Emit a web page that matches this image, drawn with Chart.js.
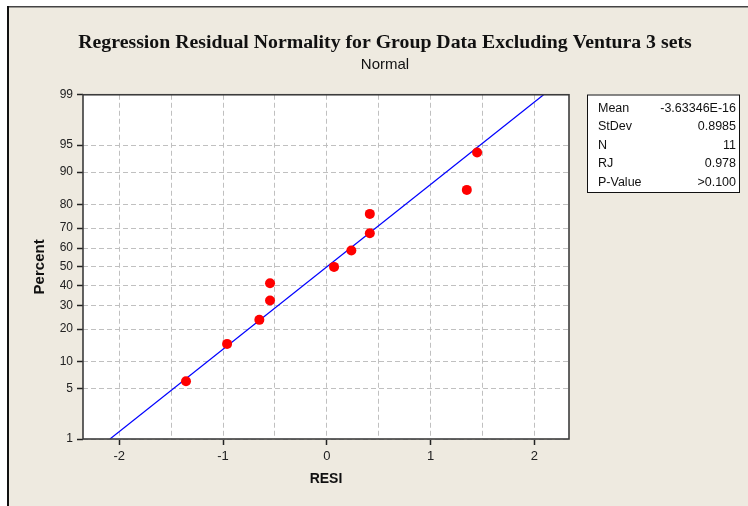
<!DOCTYPE html>
<html lang="en">
<head>
    <meta charset="UTF-8">
    <script src="https://cdn.jsdelivr.net/npm/chart.js"></script>
    <title>Regression Residual Normality</title>
    <style>
        body { margin: 0; background: #fff; overflow: hidden; }
        #wrap { position: relative; width: 748px; height: 506px; }
    </style>
</head>
<body>
    <div id="wrap">
        <canvas id="myChart"></canvas>
    </div>
    <script>
        // residuals (x) and their plotting percents (y)
        const resi = [-1.357, -0.961, -0.650, -0.547, -0.547, 0.070, 0.237, 0.415, 0.415, 1.350, 1.449];
        const percent = [6.1, 14.9, 23.7, 32.5, 41.2, 50, 58.8, 67.5, 76.3, 85.1, 93.9];

        // fitted normal line endpoints
        const fitX = [-2.09, 2.09];
        const fitP = [1, 99];

        const percentTicks = [1, 5, 10, 20, 30, 40, 50, 60, 70, 80, 90, 95, 99];
        const resiTicks = [-2, -1.5, -1, -0.5, 0, 0.5, 1, 1.5, 2];

        const statLabels = ['Mean', 'StDev', 'N', 'RJ', 'P-Value'];
        const statValues = ['-3.63346E-16', '0.8985', '11', '0.978', '>0.100'];

        // inverse normal cdf (Acklam)
        function probit(p) {
            const a = [-3.969683028665376e+01, 2.209460984245205e+02, -2.759285104469687e+02, 1.383577518672690e+02, -3.066479806614716e+01, 2.506628277459239e+00];
            const b = [-5.447609879822406e+01, 1.615858368580409e+02, -1.556989798598866e+02, 6.680131188771972e+01, -1.328068155288572e+01];
            const c = [-7.784894002430293e-03, -3.223964580411365e-01, -2.400758277161838e+00, -2.549732539343734e+00, 4.374664141464968e+00, 2.938163982698783e+00];
            const d = [7.784695709041462e-03, 3.224671290700398e-01, 2.445134137142996e+00, 3.754408661907416e+00];
            const pl = 0.02425;
            if (p < pl) {
                const q = Math.sqrt(-2 * Math.log(p));
                return (((((c[0]*q+c[1])*q+c[2])*q+c[3])*q+c[4])*q+c[5]) / ((((d[0]*q+d[1])*q+d[2])*q+d[3])*q+1);
            }
            if (p > 1 - pl) {
                const q = Math.sqrt(-2 * Math.log(1 - p));
                return -(((((c[0]*q+c[1])*q+c[2])*q+c[3])*q+c[4])*q+c[5]) / ((((d[0]*q+d[1])*q+d[2])*q+d[3])*q+1);
            }
            const q = p - 0.5, r = q * q;
            return (((((a[0]*r+a[1])*r+a[2])*r+a[3])*r+a[4])*r+a[5])*q / (((((b[0]*r+b[1])*r+b[2])*r+b[3])*r+b[4])*r+1);
        }
        function normCdf(z) {
            const t = 1 / (1 + 0.2316419 * Math.abs(z));
            const y = 0.3989423 * Math.exp(-z * z / 2) * t * (0.3193815 + t * (-0.3565638 + t * (1.781478 + t * (-1.821256 + t * 1.330274))));
            return z > 0 ? 1 - y : y;
        }

        // normal probability scale, values in percent
        class ProbitScale extends Chart.Scale {
            static id = 'probit';
            static defaults = {};
            determineDataLimits() {
                this.min = this.options.min;
                this.max = this.options.max;
            }
            buildTicks() {
                return percentTicks.map(v => ({ value: v }));
            }
            getLabelForValue(v) {
                return String(v);
            }
            getPixelForValue(v) {
                const z0 = probit(this.min / 100), z1 = probit(this.max / 100);
                return this.getPixelForDecimal((probit(v / 100) - z0) / (z1 - z0));
            }
            getValueForPixel(px) {
                const z0 = probit(this.min / 100), z1 = probit(this.max / 100);
                return normCdf(z0 + this.getDecimalForPixel(px) * (z1 - z0)) * 100;
            }
        }
        Chart.register(ProbitScale);

        const frame = {
            id: 'frame',
            beforeDraw(chart) {
                const c = chart.ctx, a = chart.chartArea;
                c.save();
                c.fillStyle = '#ffffff';
                c.fillRect(0, 0, chart.width, chart.height);
                c.fillStyle = '#eeeae0';
                c.fillRect(7, 6, chart.width - 7, chart.height - 6);
                c.fillStyle = '#444';
                c.fillRect(7, 6, chart.width - 7, 1.5);
                c.fillStyle = '#111';
                c.fillRect(7, 6, 2, chart.height - 6);
                c.fillStyle = '#ffffff';
                c.fillRect(a.left, a.top, a.right - a.left, a.bottom - a.top);
                c.restore();
            },
            afterDraw(chart) {
                const c = chart.ctx, a = chart.chartArea;
                c.save();
                c.strokeStyle = '#3c3c3c';
                c.lineWidth = 1.6;
                c.strokeRect(a.left, a.top, a.right - a.left, a.bottom - a.top);

                // stats box
                const bx = 587, by = 94.5, bw = 152, bh = 97.5;
                c.fillStyle = '#ffffff';
                c.fillRect(bx, by, bw, bh);
                c.strokeStyle = '#111';
                c.lineWidth = 1;
                c.strokeRect(bx + 0.5, by + 0.5, bw, bh);
                c.font = '12.5px "Liberation Sans", Arial, sans-serif';
                c.fillStyle = '#111';
                c.textBaseline = 'middle';
                statLabels.forEach((lab, i) => {
                    const y = 108.5 + i * 18.4;
                    c.textAlign = 'left';
                    c.fillText(lab, 598, y);
                    c.textAlign = 'right';
                    c.fillText(statValues[i], 736, y);
                });
                c.restore();
            }
        };

        const ctx = document.getElementById('myChart');
        const chart = new Chart(ctx, {
            type: 'scatter',
            data: {
                datasets: [{
                    label: 'RESI',
                    data: resi.map((x, i) => ({ x: x, y: percent[i] })),
                    backgroundColor: '#ff0000',
                    borderColor: '#ff0000',
                    pointRadius: 5,
                    pointBorderWidth: 0
                }, {
                    label: 'Fit',
                    type: 'line',
                    data: fitX.map((x, i) => ({ x: x, y: fitP[i] })),
                    borderColor: '#0000ff',
                    borderWidth: 1.2,
                    pointRadius: 0,
                    fill: false
                }]
            },
            options: {
                responsive: true,
                maintainAspectRatio: false,
                animation: false,
                layout: { padding: { left: 22, top: 0, right: 0, bottom: 0 } },
                plugins: {
                    legend: { display: false },
                    tooltip: { enabled: false },
                    title: {
                        display: true,
                        text: 'Regression Residual Normality for Group Data Excluding Ventura 3 sets',
                        color: '#111',
                        font: { family: '"Liberation Serif", "Times New Roman", serif', size: 19.8, weight: 'bold' },
                        padding: { top: 31, bottom: 0 }
                    },
                    subtitle: {
                        display: true,
                        text: 'Normal',
                        color: '#111',
                        font: { family: '"Liberation Sans", Arial, sans-serif', size: 15 },
                        padding: { top: 1, bottom: 21 }
                    }
                },
                scales: {
                    x: {
                        type: 'linear',
                        min: -2.35,
                        max: 2.335,
                        afterBuildTicks: s => { s.ticks = resiTicks.map(v => ({ value: v })); },
                        afterFit: s => { s.height = 67; },
                        border: { display: false, dash: [5, 3] },
                        grid: {
                            color: '#c0c0c0',
                            tickLength: 6,
                            tickColor: c => Number.isInteger(c.tick.value) ? '#222' : 'rgba(0,0,0,0)',
                            tickWidth: 1.5,
                            tickBorderDash: []
                        },
                        ticks: {
                            autoSkip: false,
                            maxRotation: 0,
                            padding: 4,
                            color: '#222',
                            font: { family: '"Liberation Sans", Arial, sans-serif', size: 13 },
                            callback: v => Number.isInteger(v) ? String(v) : ''
                        },
                        title: {
                            display: true,
                            text: 'RESI',
                            color: '#111',
                            font: { family: '"Liberation Sans", Arial, sans-serif', size: 14, weight: 'bold' },
                            padding: { top: 0, bottom: 18 }
                        }
                    },
                    y: {
                        type: 'probit',
                        position: 'left',
                        min: 1,
                        max: 99,
                        afterFit: s => { s.width = 61; },
                        border: { display: false, dash: [5, 3] },
                        grid: {
                            color: '#c0c0c0',
                            tickLength: 6,
                            tickColor: '#222',
                            tickWidth: 1.5,
                            tickBorderDash: []
                        },
                        ticks: {
                            autoSkip: false,
                            padding: 4,
                            color: '#222',
                            font: { family: '"Liberation Sans", Arial, sans-serif', size: 12 }
                        },
                        title: {
                            display: true,
                            text: 'Percent',
                            color: '#111',
                            font: { family: '"Liberation Sans", Arial, sans-serif', size: 15, weight: 'bold' },
                            padding: { top: 9, bottom: 0 }
                        }
                    },
                    // empty right-hand space for the stats box
                    side: {
                        type: 'linear',
                        position: 'right',
                        display: true,
                        afterFit: s => { s.width = 179; },
                        grid: { display: false },
                        border: { display: false },
                        ticks: { display: false }
                    }
                }
            },
            plugins: [frame]
        });
    </script>
</body>
</html>
